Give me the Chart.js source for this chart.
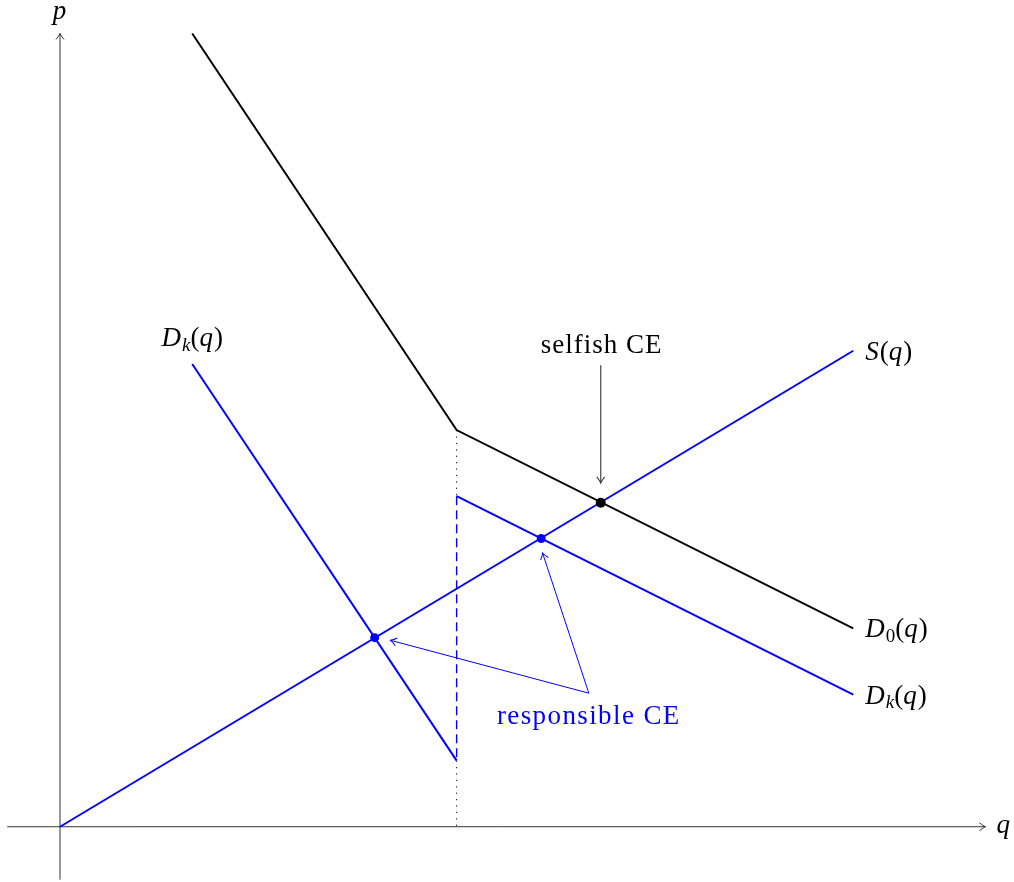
<!DOCTYPE html>
<html>
<head>
<meta charset="utf-8">
<script src="https://cdn.jsdelivr.net/npm/chart.js@4.4.1/dist/chart.umd.min.js"></script>
<style>
  html, body { margin: 0; padding: 0; background: #fff; }
  canvas { display: block; }
</style>
</head>
<body>
<canvas id="market" width="1014" height="882"></canvas>
<script>
// curves (q, p)
const demand0 = [[1, 6], [3, 3], [6, 1.5]];
const supply = [[0, 0], [6, 3.6]];
const demandKLeft = [[1, 3.5], [3, 0.5]];
const demandKRight = [[3, 2.5], [6, 1]];
const capacityDashed = [[3, 2.5], [3, 0.5]];
const capacityDottedTop = [[3, 3], [3, 2.5]];
const capacityDottedBottom = [[3, 0.5], [3, 0]];
// equilibria
const selfishCE = [[4.09, 2.45]];
const responsibleCE = [[3.64, 2.18], [2.38, 1.43]];
// axes
const qAxis = [[-0.4, 0], [7, 0]];
const pAxis = [[0, -0.4], [0, 6]];

const BLUE = '#0000ff';
const FONT = "'Liberation Serif', 'Times New Roman', serif";

const toXY = arr => arr.map(([q, p]) => ({ x: q, y: p }));

function line(data, color, width, extra) {
    return Object.assign({
        data: toXY(data),
        showLine: true,
        borderColor: color,
        borderWidth: width,
        pointRadius: 0,
        fill: false,
        tension: 0
    }, extra || {});
}

// rich text: segments of {t, it, sub}
function drawRich(ctx, segs, x, y, align, color, size) {
    const subSize = Math.round(size * 0.7);
    const fontOf = s => (s.it ? 'italic ' : '') + (s.sub ? subSize : size) + 'px ' + FONT;
    let w = 0;
    segs.forEach(s => { ctx.font = fontOf(s); w += ctx.measureText(s.t).width + (s.it && !s.sub ? 1 : 0); });
    let cx = align === 'center' ? x - w / 2 : x;
    ctx.fillStyle = color;
    ctx.textBaseline = 'alphabetic';
    ctx.textAlign = 'left';
    segs.forEach(s => {
        ctx.font = fontOf(s);
        ctx.fillText(s.t, cx, s.sub ? y + size * 0.18 : y);
        cx += ctx.measureText(s.t).width + (s.it && !s.sub ? 1 : 0);
    });
}

function arrowHead(ctx, x0, y0, x1, y1, color, width) {
    const a = Math.atan2(y1 - y0, x1 - x0);
    const len = 6, half = 4;
    ctx.save();
    ctx.translate(x1, y1);
    ctx.rotate(a);
    ctx.strokeStyle = color;
    ctx.lineWidth = width;
    ctx.beginPath();
    ctx.moveTo(-len, -half);
    ctx.quadraticCurveTo(-len * 0.35, -half * 0.2, 0, 0);
    ctx.quadraticCurveTo(-len * 0.35, half * 0.2, -len, half);
    ctx.stroke();
    ctx.restore();
}

function arrow(ctx, x0, y0, x1, y1, color, width) {
    ctx.save();
    ctx.strokeStyle = color;
    ctx.lineWidth = width;
    ctx.beginPath();
    ctx.moveTo(x0, y0);
    ctx.lineTo(x1, y1);
    ctx.stroke();
    ctx.restore();
    arrowHead(ctx, x0, y0, x1, y1, color, width);
}

const annotate = {
    id: 'annotate',
    afterDatasetsDraw(chart) {
        const ctx = chart.ctx;
        const x = chart.scales.x, y = chart.scales.y;
        const px = v => x.getPixelForValue(v);
        const py = v => y.getPixelForValue(v);

        // axis arrowheads and names
        const qEnd = qAxis[1], pEnd = pAxis[1];
        arrowHead(ctx, px(qAxis[0][0]), py(0), px(qEnd[0]), py(qEnd[1]), '#333', 1);
        arrowHead(ctx, px(0), py(pAxis[0][1]), px(pEnd[0]), py(pEnd[1]), '#333', 1);
        drawRich(ctx, [{ t: 'q', it: true }], px(qEnd[0]) + 11, py(qEnd[1]) + 6, 'left', '#000', 27);
        drawRich(ctx, [{ t: 'p', it: true }], px(pEnd[0]), py(pEnd[1]) - 14, 'center', '#000', 27);

        // curve names
        const sEnd = supply[supply.length - 1];
        drawRich(ctx, [{ t: 'S', it: true }, { t: '(' }, { t: 'q', it: true }, { t: ')' }],
            px(sEnd[0]) + 12, py(sEnd[1]) + 9, 'left', '#000', 27);
        const d0End = demand0[demand0.length - 1];
        drawRich(ctx, [{ t: 'D', it: true }, { t: '0', sub: true }, { t: '(' }, { t: 'q', it: true }, { t: ')' }],
            px(d0End[0]) + 12, py(d0End[1]) + 9, 'left', '#000', 27);
        const dkEnd = demandKRight[demandKRight.length - 1];
        drawRich(ctx, [{ t: 'D', it: true }, { t: 'k', it: true, sub: true }, { t: '(' }, { t: 'q', it: true }, { t: ')' }],
            px(dkEnd[0]) + 12, py(dkEnd[1]) + 9, 'left', '#000', 27);
        const dkTop = demandKLeft[0];
        drawRich(ctx, [{ t: 'D', it: true }, { t: 'k', it: true, sub: true }, { t: '(' }, { t: 'q', it: true }, { t: ')' }],
            px(dkTop[0]), py(dkTop[1]) - 18, 'center', '#000', 27);

        // selfish CE
        ctx.save();
        ctx.letterSpacing = '1px';
        const sCE = selfishCE[0];
        drawRich(ctx, [{ t: 'selfish CE' }], px(sCE[0]) + 1, py(3.64) + 8, 'center', '#000', 27);
        ctx.restore();
        arrow(ctx, px(sCE[0]), py(3.49), px(sCE[0]), py(2.6), '#444', 1.2);

        // responsible CE
        const from = { q: 4.0, p: 1.01 };
        ctx.save();
        ctx.letterSpacing = '1.4px';
        drawRich(ctx, [{ t: 'responsible CE' }], px(from.q), py(from.p) + 31, 'center', BLUE, 27);
        ctx.restore();
        arrow(ctx, px(from.q), py(from.p), px(2.5), py(1.41), BLUE, 1);
        arrow(ctx, px(from.q), py(from.p), px(3.65), py(2.07), BLUE, 1);
    }
};

new Chart(document.getElementById('market'), {
    type: 'scatter',
    data: {
        datasets: [
            line(selfishCE, '#000', 0, { pointRadius: 5, pointBackgroundColor: '#000', pointBorderWidth: 0, showLine: false, order: 0 }),
            line(responsibleCE, BLUE, 0, { pointRadius: 4.5, pointBackgroundColor: BLUE, pointBorderWidth: 0, showLine: false, order: 0 }),
            line(supply, BLUE, 2, { order: 1 }),
            line(demand0, '#000', 2, { order: 1 }),
            line(demandKLeft, BLUE, 2, { order: 1 }),
            line(demandKRight, BLUE, 2, { order: 1 }),
            line(capacityDashed, BLUE, 1.4, { borderDash: [9, 5], order: 2 }),
            line(capacityDottedTop, '#000', 1, { borderDash: [1.2, 5.2], order: 3 }),
            line(capacityDottedBottom, '#000', 1, { borderDash: [1.2, 5.2], order: 3 }),
            line(qAxis, '#333', 1, { order: 4 }),
            line(pAxis, '#333', 1, { order: 4 })
        ]
    },
    options: {
        responsive: false,
        animation: false,
        layout: { padding: 0, autoPadding: false },
        plugins: {
            legend: { display: false },
            tooltip: { enabled: false },
            title: { display: false }
        },
        scales: {
            x: { type: 'linear', display: false, min: -0.454, max: 7.216 },
            y: { type: 'linear', display: false, min: -0.418, max: 6.253 }
        }
    },
    plugins: [annotate]
});
</script>
</body>
</html>
